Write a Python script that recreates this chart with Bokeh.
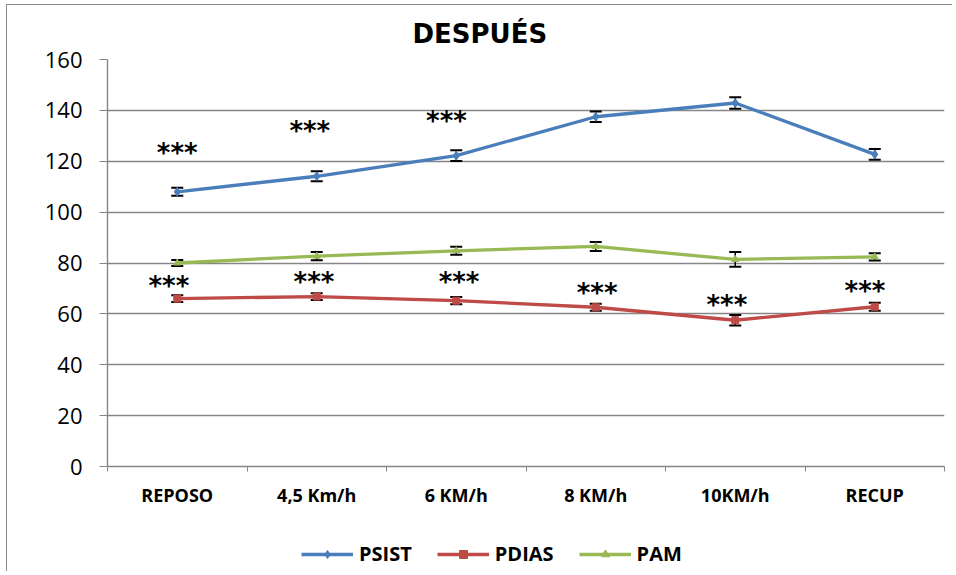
from bokeh.plotting import figure
from bokeh.layouts import column
from bokeh.models import (ColumnDataSource, Whisker, TeeHead, FixedTicker, Legend, LegendItem,
                          Range1d)
from bokeh.core.properties import value
from bokeh.embed import file_html
from bokeh.resources import INLINE

categories = ["REPOSO", "4,5 Km/h", "6 KM/h", "8 KM/h", "10KM/h", "RECUP"]
psist = [108.0, 114.1, 122.2, 137.5, 142.9, 122.7]
psist_err = [1.6, 2.0, 2.1, 2.1, 2.3, 2.1]
pdias = [66.0, 66.8, 65.2, 62.6, 57.5, 62.8]
pdias_err = [1.3, 1.3, 1.4, 1.4, 2.1, 1.6]
pam = [80.0, 82.7, 84.8, 86.5, 81.4, 82.4]
pam_err = [1.2, 1.6, 1.6, 1.8, 2.9, 1.4]

# significance marks: category index + offset, visual centre value
psist_star_x = [0.50, 1.45, 2.43]
psist_star_y = [123.9, 132.5, 136.5]
pdias_star_x = [0.44, 1.48, 2.52, 3.51, 4.44, 5.43]
pdias_star_y = [71.8, 73.3, 73.3, 69.0, 64.3, 69.8]

y_ticks = [0, 20, 40, 60, 80, 100, 120, 140, 160]

GRID = "#868686"
x = [i + 0.5 for i in range(len(categories))]

p = figure(width=945, height=530, output_backend="svg", toolbar_location=None,
           x_range=Range1d(0, len(categories)), y_range=Range1d(0, 160),
           min_border_left=100, min_border_right=8, min_border_top=53, min_border_bottom=69,
           title="DESPUÉS")
p.outline_line_color = None
p.background_fill_color = "white"
p.border_fill_color = "white"

p.title.align = "left"
p.title.offset = 305
p.title.text_font = "DejaVu Sans"
p.title.text_font_style = "bold"
p.title.text_font_size = "26px"
p.title.text_color = "black"
p.title.standoff = 22

# grid
p.xgrid.grid_line_color = None
p.ygrid.grid_line_color = GRID
p.ygrid.grid_line_width = 1.4
p.yaxis.ticker = FixedTicker(ticks=y_ticks)

# axes
p.yaxis.axis_line_color = GRID
p.yaxis.axis_line_width = 1.4
p.yaxis.major_tick_line_color = GRID
p.yaxis.major_tick_out = 8
p.yaxis.major_tick_in = 0
p.yaxis.minor_tick_line_color = None
p.yaxis.major_label_text_font = "Open Sans"
p.yaxis.major_label_text_font_size = "22px"
p.yaxis.major_label_text_color = "black"
p.yaxis.major_label_standoff = 17

p.xaxis.ticker = FixedTicker(ticks=x, minor_ticks=list(range(len(categories) + 1)))
p.xaxis.major_label_overrides = {xi: c for xi, c in zip(x, categories)}
p.xaxis.axis_line_color = GRID
p.xaxis.axis_line_width = 1.4
p.xaxis.major_tick_line_color = None
p.xaxis.minor_tick_line_color = GRID
p.xaxis.minor_tick_out = 5
p.xaxis.minor_tick_in = 0
p.xaxis.major_label_text_font = "Open Sans"
p.xaxis.major_label_text_font_style = "bold"
p.xaxis.major_label_text_font_size = "18px"
p.xaxis.major_label_text_color = "black"
p.xaxis.major_label_standoff = 10

series = [
    ("PSIST", psist, psist_err, "#4A7EBB", "diamond", 9),
    ("PDIAS", pdias, pdias_err, "#BE4B48", "square", 7),
    ("PAM", pam, pam_err, "#98B954", "triangle", 7),
]

for name, vals, errs, col, marker, msize in series:
    src = ColumnDataSource(dict(x=x, y=vals))
    p.line("x", "y", source=src, line_color=col, line_width=3.3)
    p.scatter("x", "y", source=src, marker=marker, size=msize,
              fill_color=col, line_color=col)

for name, vals, errs, col, marker, msize in series:
    src = ColumnDataSource(dict(x=x,
                                upper=[v + e for v, e in zip(vals, errs)],
                                lower=[v - e for v, e in zip(vals, errs)]))
    w = Whisker(source=src, base="x", upper="upper", lower="lower",
                line_color="black", line_width=1.5,
                upper_head=TeeHead(size=12, line_color="black", line_width=2),
                lower_head=TeeHead(size=12, line_color="black", line_width=2))
    p.add_layout(w)

p.text(x=psist_star_x + pdias_star_x, y=psist_star_y + pdias_star_y,
       text=["***"] * (len(psist_star_x) + len(pdias_star_x)),
       text_font=value("DejaVu Sans"), text_font_style="bold", text_font_size="26px",
       text_align="center", text_baseline="alphabetic", y_offset=2, text_color="black")

# legend strip below the chart
lf = figure(width=945, height=36, output_backend="svg", toolbar_location=None,
            x_range=Range1d(0, 1), y_range=Range1d(0, 1),
            x_axis_type=None, y_axis_type=None, min_border=0)
lf.outline_line_color = None
lf.xgrid.grid_line_color = None
lf.ygrid.grid_line_color = None
items = []
for name, vals, errs, col, marker, msize in series:
    ln = lf.line(x=[-10, -9], y=[-10, -9], line_color=col, line_width=3.3)
    sc = lf.scatter(x=[-10], y=[-10], marker=marker, size=msize,
                    fill_color=col, line_color=col)
    items.append(LegendItem(label=name, renderers=[ln, sc]))

legend = Legend(items=items, orientation="horizontal", location=(194, 4),
                glyph_width=52, glyph_height=20, label_standoff=6, spacing=25,
                padding=0, margin=0, border_line_color=None, background_fill_alpha=0,
                label_text_font="Open Sans", label_text_font_style="bold",
                label_text_font_size="20px", label_text_color="black")
lf.add_layout(legend, "center")

layout = column(p, lf, spacing=0,
                styles={"border-left": "1px solid #8c8c8c", "border-top": "1px solid #8c8c8c",
                        "margin-left": "6px", "margin-top": "4px"})

open("out.html", "w").write(file_html(layout, INLINE))
